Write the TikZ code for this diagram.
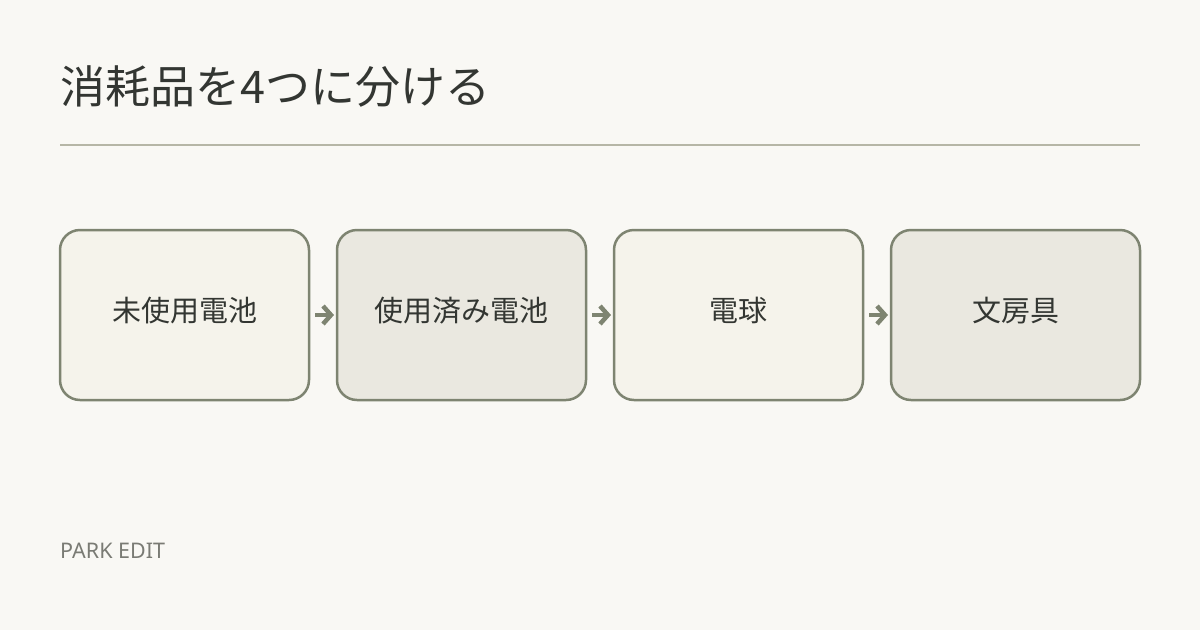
\documentclass[tikz,border=0pt]{standalone}
\usepackage{fontspec}
\setmainfont{Noto Sans}
\newfontfamily\jpfont{Noto Sans CJK JP}
\usetikzlibrary{arrows.meta}
\definecolor{paper}{HTML}{F9F8F4}
\definecolor{sage}{HTML}{7E8471}
\definecolor{rule}{HTML}{B6B6A6}
\definecolor{ink}{HTML}{333632}
\definecolor{fillA}{HTML}{F5F3EB}
\definecolor{fillB}{HTML}{EAE8E0}
\definecolor{mute}{HTML}{7A7B74}
\begin{document}
\begin{tikzpicture}[x=1pt,y=-1pt,
  stepbox/.style={draw=sage,line width=2.5pt,rounded corners=20pt,minimum width=249pt,minimum height=170pt,outer sep=0pt,inner sep=0pt,text height=25pt,text depth=13pt,text=ink,font=\jpfont\fontsize{29}{33}\selectfont},
  flow/.style={sage,line width=4.5pt,-{Straight Barb[length=8pt,width=18pt,line width=4.5pt]},shorten <=6pt,shorten >=3pt}]
\fill [paper] (0,0) rectangle (1200,630);
\useasboundingbox (0,0) rectangle (1200,630);
% title and rule
\node (title) [anchor=base west,inner sep=0pt,text=ink,font=\jpfont\fontsize{45}{50}\selectfont] at (60,103) {消耗品を4つに分ける};
\coordinate (ruleL) at (60,145);
\coordinate (ruleR) at (1140,145);
\draw [rule,line width=2pt] (ruleL) -- (ruleR);
% the four boxes
\node (unused) [stepbox,fill=fillA] at (184.5,315) {未使用電池};
\node (used) [stepbox,fill=fillB] at (461.5,315) {使用済み電池};
\node (bulb) [stepbox,fill=fillA] at (738.5,315) {電球};
\node (office) [stepbox,fill=fillB] at (1015.5,315) {文房具};
\draw [flow] (unused) -- (used);
\draw [flow] (used) -- (bulb);
\draw [flow] (bulb) -- (office);
% footer
\node (brand) [anchor=base west,inner sep=0pt,text=mute,font=\fontsize{21.5}{24}\selectfont] at (60,558) {PARK EDIT};
\end{tikzpicture}
\end{document}
